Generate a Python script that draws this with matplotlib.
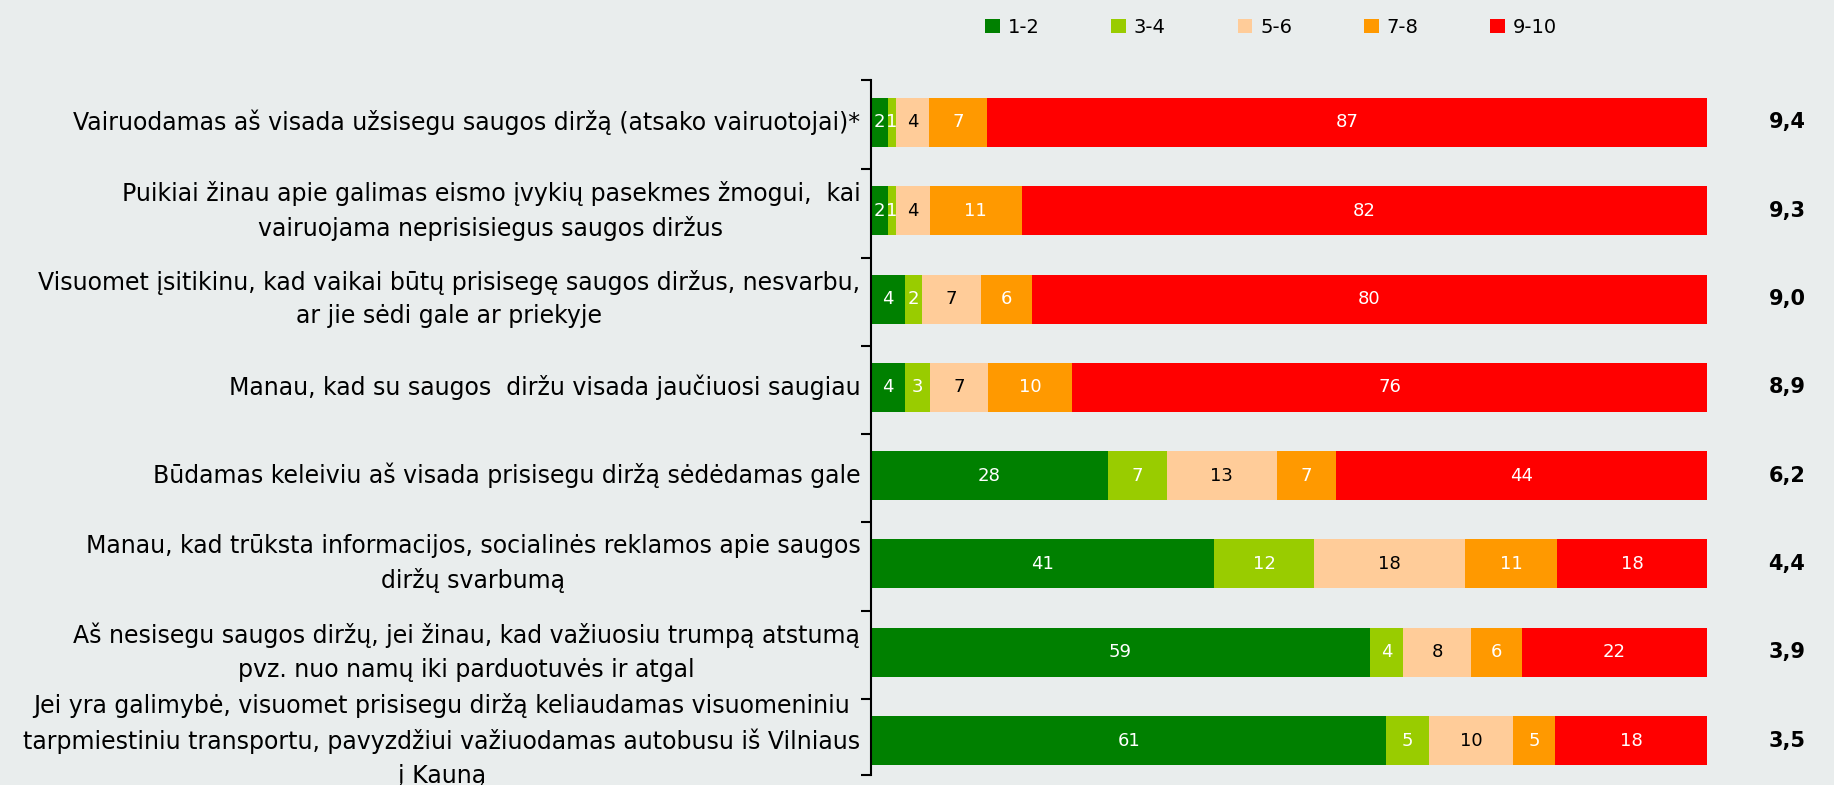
import numpy as np
import matplotlib.pyplot as plt

categories = [
    "Vairuodamas aš visada užsisegu saugos diržą (atsako vairuotojai)*",
    "Puikiai žinau apie galimas eismo įvykių pasekmes žmogui,  kai\nvairuojama neprisisiegus saugos diržus",
    "Visuomet įsitikinu, kad vaikai būtų prisisegę saugos diržus, nesvarbu,\nar jie sėdi gale ar priekyje",
    "Manau, kad su saugos  diržu visada jaučiuosi saugiau",
    "Būdamas keleiviu aš visada prisisegu diržą sėdėdamas gale",
    "Manau, kad trūksta informacijos, socialinės reklamos apie saugos\ndiržų svarbumą",
    "Aš nesisegu saugos diržų, jei žinau, kad važiuosiu trumpą atstumą\npvz. nuo namų iki parduotuvės ir atgal",
    "Jei yra galimybė, visuomet prisisegu diržą keliaudamas visuomeniniu\ntarpmiestiniu transportu, pavyzdžiui važiuodamas autobusu iš Vilniaus\nį Kauną",
]
series = ["1-2", "3-4", "5-6", "7-8", "9-10"]
s12 = [2, 2, 4, 4, 28, 41, 59, 61]
s34 = [1, 1, 2, 3, 7, 12, 4, 5]
s56 = [4, 4, 7, 7, 13, 18, 8, 10]
s78 = [7, 11, 6, 10, 7, 11, 6, 5]
s910 = [87, 82, 80, 76, 44, 18, 22, 18]
means = ["9,4", "9,3", "9,0", "8,9", "6,2", "4,4", "3,9", "3,5"]

colors = ["#008000", "#99cc00", "#ffcc99", "#ff9900", "#ff0000"]
txt_colors = ["white", "white", "black", "white", "white"]
bg = "#e9eded"

data = np.array([s12, s34, s56, s78, s910], dtype=float)
share = data / data.sum(axis=0) * 100  # bars all end at 100 %

fig = plt.figure(figsize=(18.34, 7.85), dpi=100, facecolor=bg)
ax = fig.add_axes([0.475, 0.0127, 0.456, 0.8854], facecolor=bg)

y = np.arange(len(categories))
left = np.zeros(len(categories))
for i, name in enumerate(series):
    bars = ax.barh(y, share[i], left=left, height=0.555, color=colors[i], label=name)
    for j, b in enumerate(bars):
        ax.text(left[j] + share[i][j] / 2, y[j], "%d" % data[i][j], ha="center", va="center",
                color=txt_colors[i], fontsize=13)
    left += share[i]

for j, m in enumerate(means):
    ax.text(109.5, y[j], m, ha="center", va="center", fontsize=15, fontweight="bold", clip_on=False)

# category labels to the left of the axis
for j, c in enumerate(categories):
    ax.text(-1.3, y[j], c, ha="right", va="center", multialignment="center",
            fontsize=17, linespacing=1.5, clip_on=False)

top, bottom = -0.48, len(categories) - 0.61
ax.set_xlim(0, 100)
ax.set_ylim(bottom, top)
ax.set_yticks([top] + list(np.arange(len(categories) - 1) + 0.53) + [bottom])
ax.set_yticklabels([])
ax.tick_params(axis="y", length=7, width=1.5)
ax.set_xticks([])
for s in ["top", "right", "bottom"]:
    ax.spines[s].set_visible(False)
ax.spines["left"].set_linewidth(1.5)

fig.legend(loc="center", bbox_to_anchor=(0.693, 0.965), ncol=5, frameon=False, fontsize=14,
           handlelength=0.75, handleheight=0.75, columnspacing=3.7, handletextpad=0.4)

fig.savefig("out.png", facecolor=bg)
